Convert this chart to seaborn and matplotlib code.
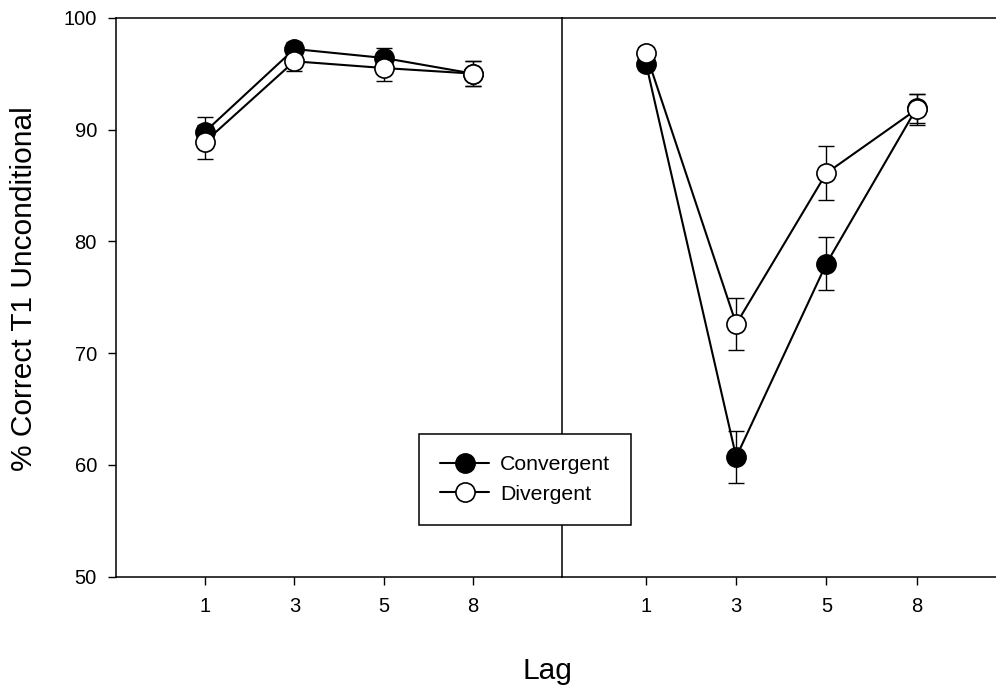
import pandas as pd
import matplotlib
matplotlib.use('Agg')
import matplotlib.pyplot as plt
import seaborn as sns

# Data
lags = ['1', '3', '5', '8']
left_conv = [89.8, 97.2, 96.4, 95.0]
left_conv_err = [1.3, 0.6, 0.9, 1.1]
left_div = [88.9, 96.1, 95.5, 95.0]
left_div_err = [1.5, 0.9, 1.2, 1.1]
right_conv = [95.9, 60.7, 78.0, 91.9]
right_conv_err = [0.6, 2.3, 2.4, 1.3]
right_div = [96.8, 72.6, 86.1, 91.8]
right_div_err = [0.6, 2.3, 2.4, 1.4]

sns.set_style('ticks')
plt.rcParams['font.family'] = ['Liberation Sans', 'DejaVu Sans']
plt.rcParams['text.color'] = 'black'
plt.rcParams['xtick.color'] = 'black'
plt.rcParams['ytick.color'] = 'black'
plt.rcParams['xtick.labelcolor'] = 'black'
plt.rcParams['ytick.labelcolor'] = 'black'

fig = plt.figure(figsize=(9.96, 6.86), dpi=100)
W, H = 996, 686
y_bot, y_top = 576.7, 17.7
ax_l = fig.add_axes([115.7 / W, 1 - y_bot / H, (562.3 - 115.7) / W, (y_bot - y_top) / H])
ax_r = fig.add_axes([562.3 / W, 1 - y_bot / H, (1010 - 562.3) / W, (y_bot - y_top) / H])

pos = list(range(1, len(lags) + 1))


def draw_panel(ax, conv, conv_err, div, div_err):
    df = pd.DataFrame({'pos': pos, 'conv': conv, 'div': div})
    ax.errorbar(df['pos'], df['conv'], yerr=conv_err, fmt='none', ecolor='black',
                elinewidth=1.0, capsize=6, capthick=1.0, zorder=1)
    ax.errorbar(df['pos'], df['div'], yerr=div_err, fmt='none', ecolor='black',
                elinewidth=1.0, capsize=6, capthick=1.0, zorder=1)
    sns.lineplot(data=df, x='pos', y='conv', ax=ax, color='black', linewidth=1.5,
                 marker='o', markersize=13.8, markerfacecolor='black',
                 markeredgecolor='black', markeredgewidth=1.2, label='Convergent',
                 zorder=2)
    sns.lineplot(data=df, x='pos', y='div', ax=ax, color='black', linewidth=1.5,
                 marker='o', markersize=13.8, markerfacecolor='white',
                 markeredgecolor='black', markeredgewidth=1.2, label='Divergent',
                 zorder=3)
    ax.set_xticks(pos)
    ax.set_xticklabels(lags)
    ax.set_ylim(50, 100)
    ax.set_xlabel('')
    ax.set_ylabel('')
    leg = ax.get_legend()
    if leg is not None:
        leg.remove()


draw_panel(ax_l, left_conv, left_conv_err, left_div, left_div_err)
draw_panel(ax_r, right_conv, right_conv_err, right_div, right_div_err)

ax_l.set_xlim(0, 5)
ax_r.set_xlim(1 - 83.7 / 90.2, 1 + (1010 - 646) / 90.2)

ax_l.set_yticks([50, 60, 70, 80, 90, 100])
ax_r.set_yticks([])

for ax in (ax_l, ax_r):
    for s in ax.spines.values():
        s.set_linewidth(1.1)
        s.set_color('black')
    ax.spines['right'].set_visible(False)
    ax.tick_params(axis='both', direction='out', length=5.5, width=1.0,
                   labelsize=14.5, color='black', labelcolor='black')
    ax.tick_params(axis='x', pad=9)
    ax.tick_params(axis='y', pad=8)

ax_r.tick_params(axis='y', length=0)

handles, labels = ax_l.get_legend_handles_labels()
fig.legend(handles, labels, loc='upper left',
           bbox_to_anchor=(419 / W, 1 - 434 / H), fontsize=15.3,
           frameon=True, fancybox=False, edgecolor='black', framealpha=1,
           handlelength=2.3, handletextpad=0.5, labelspacing=0.5,
           borderpad=1.0, borderaxespad=0)
fig.legends[0].get_frame().set_linewidth(1.1)

fig.text(547 / W, 1 - 679 / H, 'Lag', ha='center', va='baseline', fontsize=21.5,
         color='black')
fig.text(24 / W, 1 - 288.5 / H, '% Correct T1 Unconditional', ha='center',
         va='center', rotation=90, fontsize=21.5, color='black')

fig.savefig('out.png', dpi=100)
plt.close(fig)
